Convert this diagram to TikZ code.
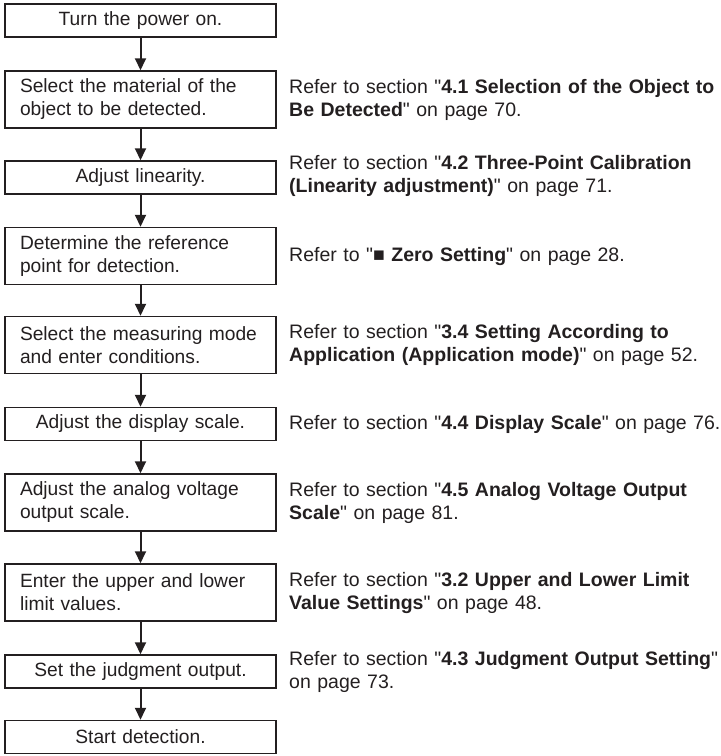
\documentclass[tikz,border=0pt]{standalone}
\usepackage{fontspec}
\setmainfont{Liberation Sans}
\usetikzlibrary{arrows.meta}
\definecolor{manualInk}{RGB}{35,31,32}
\newcommand{\sq}{\textquotedbl}

\tikzset{
  flowBox/.style={draw=manualInk, line width=1.5pt, text=manualInk, minimum width=271pt, text width=235pt, inner xsep=18pt, inner ysep=2pt, align=center, font=\fontsize{19.2}{23}\selectfont},
  twoLine/.style={flowBox, align=left, text width=241pt, inner xsep=15pt, minimum height=57pt},
  oneLine/.style={flowBox, minimum height=33pt},
  noteText/.style={anchor=west, inner sep=0pt, text=manualInk, text width=460pt, align=left, font=\fontsize{19.5}{23}\selectfont},
  flowArrow/.style={draw=manualInk, line width=2pt, -{Triangle[length=12pt,width=11pt]}}
}

\begin{document}
\begin{tikzpicture}[x=1pt, y=-1pt]
        \useasboundingbox (0,0) rectangle (721,756);
        % steps
        \node[oneLine] (power) at (140.5,20.5) {Turn the power on.};
        \node[twoLine] (material) at (140.5,99.5) {Select the material of the\\object to be detected.};
        \node[oneLine] (linearity) at (140.5,177.5) {Adjust linearity.};
        \node[twoLine] (refpoint) at (140.5,256) {Determine the reference\\point for detection.};
        \node[twoLine] (mode) at (140.5,345) {Select the measuring mode\\and enter conditions.};
        \node[oneLine] (display) at (140.5,424) {Adjust the display scale.};
        \node[twoLine] (analog) at (140.5,502.5) {Adjust the analog voltage\\output scale.};
        \node[twoLine] (limits) at (140.5,592.5) {Enter the upper and lower\\limit values.};
        \node[oneLine] (judgment) at (140.5,671.5) {Set the judgment output.};
        \node[oneLine] (start) at (140.5,737) {Start detection.};
        % references
        \node[noteText] (refMaterial) at (289,99.5) {Refer to section \sq\textbf{4.1 Selection of the Object to}\\\textbf{Be Detected}\sq{} on page 70.};
        \node[noteText] (refLinearity) at (289,175.5) {Refer to section \sq\textbf{4.2 Three-Point Calibration}\\\textbf{(Linearity adjustment)}\sq{} on page 71.};
        \node[noteText] (refZero) at (289,256) {Refer to \sq■ \textbf{Zero Setting}\sq{} on page 28.};
        \node[noteText] (refMode) at (289,345) {Refer to section \sq\textbf{3.4 Setting According to}\\\textbf{Application (Application mode)}\sq{} on page 52.};
        \node[noteText] (refDisplay) at (289,424) {Refer to section \sq\textbf{4.4 Display Scale}\sq{} on page 76.};
        \node[noteText] (refAnalog) at (289,502.5) {Refer to section \sq\textbf{4.5 Analog Voltage Output}\\\textbf{Scale}\sq{} on page 81.};
        \node[noteText] (refLimits) at (289,592.5) {Refer to section \sq\textbf{3.2 Upper and Lower Limit}\\\textbf{Value Settings}\sq{} on page 48.};
        \node[noteText] (refJudgment) at (289,671.5) {Refer to section \sq\textbf{4.3 Judgment Output Setting}\sq\\on page 73.};
        % arrows
        \draw[flowArrow] (power) -- (material);
        \draw[flowArrow] (material) -- (linearity);
        \draw[flowArrow] (linearity) -- (refpoint);
        \draw[flowArrow] (refpoint) -- (mode);
        \draw[flowArrow] (mode) -- (display);
        \draw[flowArrow] (display) -- (analog);
        \draw[flowArrow] (analog) -- (limits);
        \draw[flowArrow] (limits) -- (judgment);
        \draw[flowArrow] (judgment) -- (start);
\end{tikzpicture}
\end{document}
